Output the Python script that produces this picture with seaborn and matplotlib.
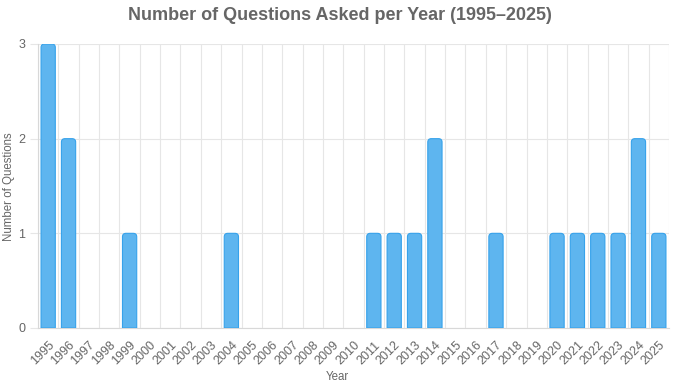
import numpy as np
import pandas as pd
import seaborn as sns
import matplotlib.pyplot as plt
from matplotlib.path import Path
from matplotlib.patches import PathPatch

years = ["1995", "1996", "1997", "1998", "1999", "2000", "2001", "2002", "2003", "2004",
         "2005", "2006", "2007", "2008", "2009", "2010", "2011", "2012", "2013", "2014",
         "2015", "2016", "2017", "2018", "2019", "2020", "2021", "2022", "2023", "2024", "2025"]
counts = [3, 2, 0, 0, 1, 0, 0, 0, 0, 1,
          0, 0, 0, 0, 0, 0, 1, 1, 1, 2,
          0, 0, 1, 0, 0, 1, 1, 1, 1, 2, 1]
y_ticks = [0, 1, 2, 3]

title = "Number of Questions Asked per Year (1995\u20132025)"
xlabel = "Year"
ylabel = "Number of Questions"

df = pd.DataFrame({"Year": years, "Count": counts})

sns.set_theme(style="white")
plt.rcParams['font.family'] = ['Liberation Sans', 'DejaVu Sans']

W, H = 674, 388
fig = plt.figure(figsize=(W / 100, H / 100), dpi=100)
ax_l, ax_r, ax_t, ax_b = 38, 669, 44, 328
ax = fig.add_axes([ax_l / W, (H - ax_b) / H, (ax_r - ax_l) / W, (ax_b - ax_t) / H])

fill = "#5EB5EF"
edge = "#36A2EB"
grid_c = "#e6e6e6"
text_c = "#666666"

sns.barplot(data=df, x="Year", y="Count", color=fill, width=0.7, ax=ax, saturation=1)

ax.set_xlim(-0.5, len(years) - 0.5)
ax.set_ylim(0, 3)

# replace bars with top-rounded bars
px_x = len(years) / (ax_r - ax_l)
px_y = 3 / (ax_b - ax_t)
rx, ry = 3.5 * px_x, 3.5 * px_y
bars = list(ax.patches)
for p in bars:
    x, w, h = p.get_x(), p.get_width(), p.get_height()
    p.remove()
    if h <= 0:
        continue
    verts = [(x, 0), (x, h - ry), (x, h), (x + rx, h), (x + w - rx, h), (x + w, h),
             (x + w, h - ry), (x + w, 0), (x, 0)]
    codes = [Path.MOVETO, Path.LINETO, Path.CURVE3, Path.CURVE3, Path.LINETO,
             Path.CURVE3, Path.CURVE3, Path.LINETO, Path.CLOSEPOLY]
    ax.add_patch(PathPatch(Path(verts, codes), facecolor=fill, edgecolor=edge,
                           linewidth=0.8, zorder=3))

# grid lines at category boundaries
ax.set_xticks(np.arange(-0.5, len(years), 1), minor=True)
ax.set_xticks(range(len(years)))
ax.set_xticklabels(years, rotation=45, ha="right", va="top", rotation_mode="anchor",
                   fontsize=9, color=text_c)
ax.tick_params(axis="x", which="major", length=0, pad=8)
ax.tick_params(axis="x", which="minor", length=6, color=grid_c, width=0.8)
ax.grid(axis="x", which="minor", color=grid_c, linewidth=0.8, zorder=0)
ax.grid(axis="x", which="major", visible=False)

ax.set_yticks(y_ticks)
ax.set_yticklabels([str(v) for v in y_ticks], fontsize=9, color=text_c)
ax.tick_params(axis="y", length=6, color=grid_c, width=0.8, pad=3, left=True)
ax.grid(axis="y", color=grid_c, linewidth=0.8, zorder=0)
ax.set_axisbelow(True)

for s in ["top", "right"]:
    ax.spines[s].set_visible(False)
for s in ["left", "bottom"]:
    ax.spines[s].set_color("#d8d8d8")
    ax.spines[s].set_linewidth(0.8)

ax.set_xlabel("")
ax.set_ylabel("")
fig.text(337 / W, 1 - 377 / H, xlabel, ha="center", va="center", fontsize=8.3, color=text_c)
fig.text(9 / W, 1 - 187 / H, ylabel, ha="center", va="center", rotation=90,
         fontsize=8.3, color=text_c)

fig.text(340 / W, 1 - 15 / H, title, ha="center", va="center", fontsize=13,
         fontweight="bold", color=text_c)

fig.savefig("out.png", dpi=100)
